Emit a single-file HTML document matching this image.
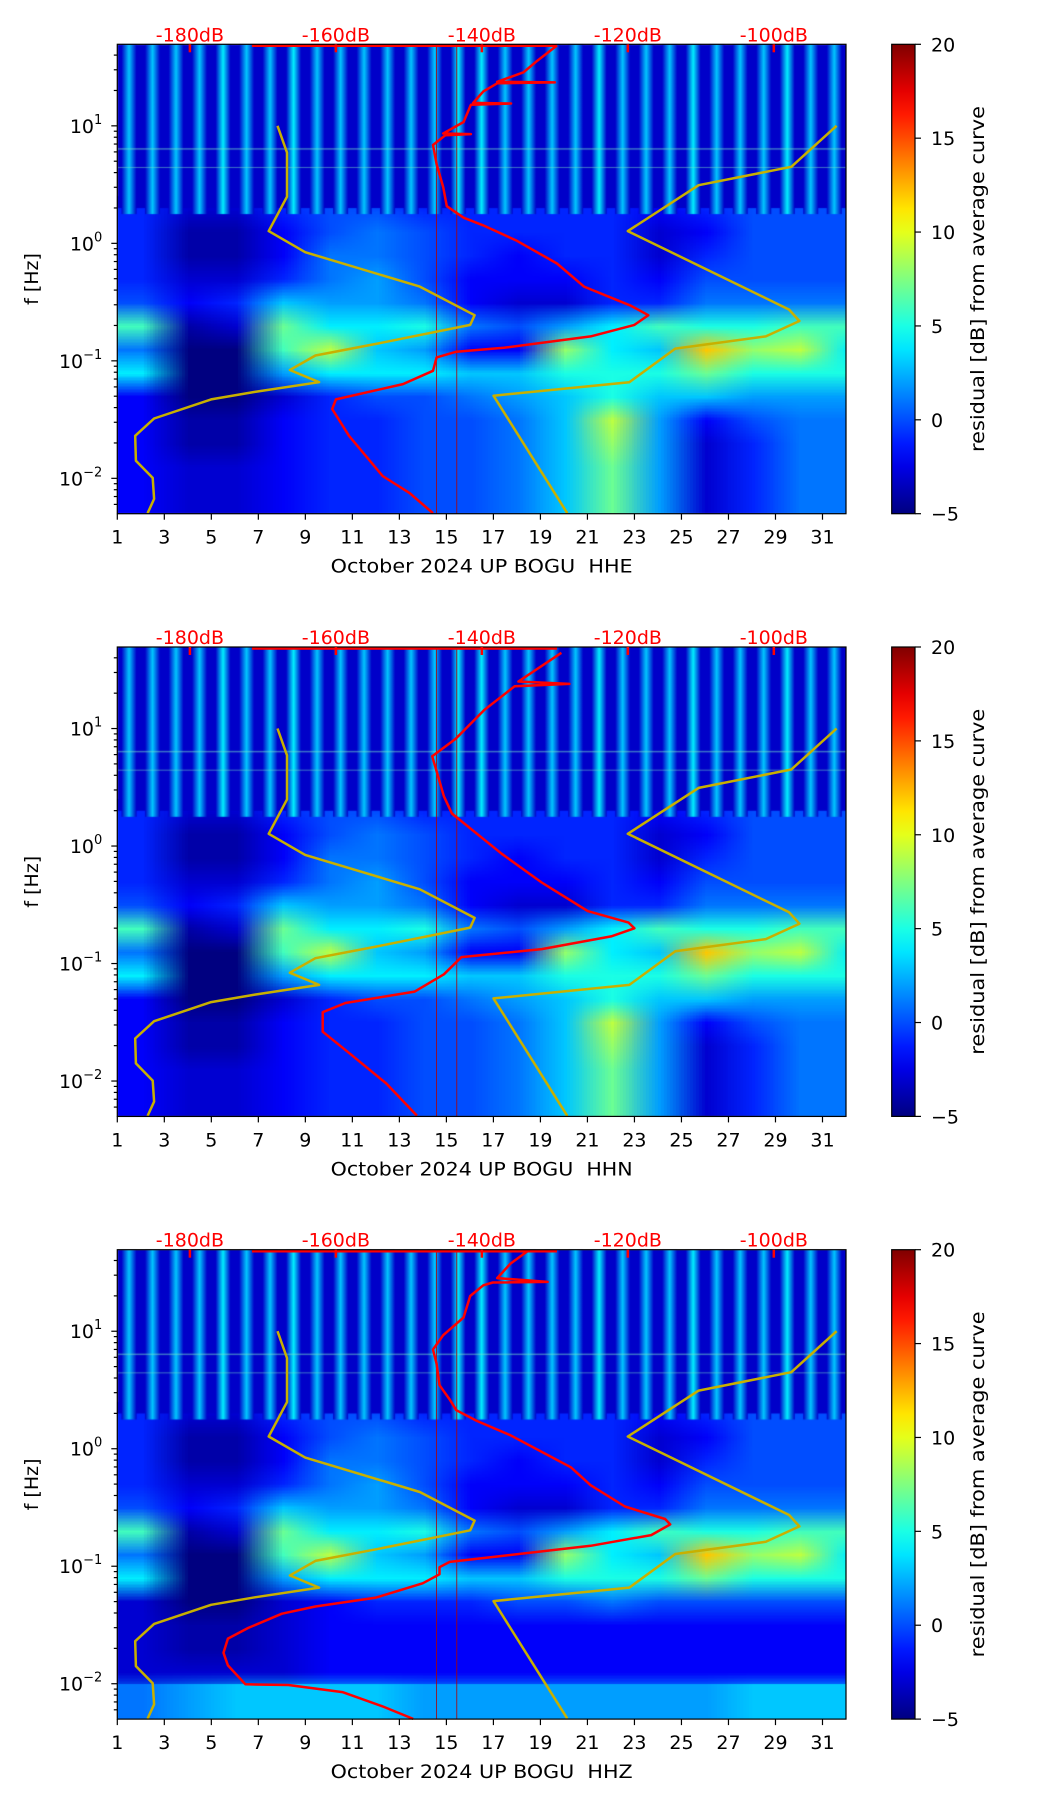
<!DOCTYPE html>
<html><head><meta charset="utf-8">
<style>
html,body{margin:0;padding:0;background:#fff;}
#wrap{position:relative;width:1052px;height:1806px;overflow:hidden;font-family:"DejaVu Sans","Liberation Sans",sans-serif;}
canvas{position:absolute;left:0;top:0;}
svg{position:absolute;left:0;top:0;}
</style></head>
<body>
<div id="wrap">
<canvas id="cv" width="1052" height="1806"></canvas>
<svg id="sv" width="1052" height="1806" xmlns="http://www.w3.org/2000/svg"></svg>
</div>
<script>
// ---------- data ----------
const panelTitles = ["October 2024 UP BOGU \u00a0HHE","October 2024 UP BOGU \u00a0HHN","October 2024 UP BOGU \u00a0HHZ"];
const dayTicks = [1,3,5,7,9,11,13,15,17,19,21,23,25,27,29,31];
const dbTicks = [-180,-160,-140,-120,-100];
const dbTickLabels = ["-180dB","-160dB","-140dB","-120dB","-100dB"];
const cbTicks = [20,15,10,5,0,-5];
const cbTickLabels = ["20","15","10","5","0","\u22125"];
const rowLogF = [0.3,0.1,-0.1,-0.3,-0.5,-0.7,-0.9,-1.1,-1.3,-1.5,-1.7,-1.9,-2.1,-2.3];
const specRows12 = [
 [-1,-3,-3,-1,0,0,-1,-1,-1,-1,-1,-2,-1,0,0,0],
 [-1,-4,-4,-2,0,1,0,-1,-1,-1,-1,-3,-2,0,0,0],
 [-1,-4,-4,-2,1,1,0,-1,-2,-1,-1,-3,-1,0,0,0],
 [-1,-3,-3,-1,1,2,0,-2,-2,-2,-1,-2,0,0,0,0],
 [0,-2,-1,3,2,2,1,-2,-3,-3,-1,-1,1,1,1,1],
 [6,-4,-3,7,4,4,5,1,0,2,4,6,5,5,6,6],
 [1,-5,-5,6,9,3,2,-2,-2,8,4,3,12,8,9,4],
 [4,-5,-5,2,4,4,4,3,3,5,5,5,7,5,5,5],
 [-2,-5,-5,-3,-1,0,0,1,2,3,5,3,3,2,2,2],
 [-2,-4,-4,-2,-1,-1,0,0,1,3,9,2,-2,0,1,1],
 [-2,-4,-4,-2,-1,-1,0,0,1,3,8,2,-3,-1,1,1],
 [-2,-3,-3,-2,-1,-1,0,0,1,3,7,2,-3,-1,1,1],
 [-2,-3,-3,-2,-1,-1,0,0,1,3,7,2,-3,-1,1,1],
 [-2,-3,-3,-2,-1,-1,0,0,1,3,7,2,-3,-1,1,1]
];
const specRows3 = [
 [-1,-3,-3,-1,0,0,-1,-1,-1,-1,-1,-2,-1,0,0,0],
 [-1,-4,-4,-2,0,1,0,-1,-1,-1,-1,-3,-2,0,0,0],
 [-1,-4,-4,-2,1,1,0,-1,-2,-1,-1,-3,-1,0,0,0],
 [-1,-3,-3,-1,1,2,0,-2,-2,-2,-1,-2,0,0,0,0],
 [0,-2,-1,3,2,2,1,-2,-3,-3,-1,-1,1,1,1,1],
 [6,-4,-3,7,4,4,5,1,0,2,4,6,5,5,6,6],
 [1,-5,-5,6,9,3,2,-2,-2,8,4,3,12,8,9,4],
 [4,-5,-5,2,4,4,4,3,3,5,5,5,7,5,5,5],
 [-3,-5,-5,-3,-2,-1,-1,-1,0,0,1,0,0,0,0,0],
 [-3,-4,-4,-3,-2,-2,-2,-2,-2,-2,-2,-2,-2,-2,-2,-2],
 [-3,-4,-4,-3,-2,-2,-2,-2,-2,-2,-2,-2,-2,-2,-2,-2],
 [-3,-3,-3,-3,-2,-2,-2,-2,-2,-2,-2,-2,-2,-2,-2,-2],
 [1,2,3,3,3,3,2,2,2,2,2,2,2,3,3,3],
 [1,2,3,3,3,3,2,2,2,2,2,2,2,3,3,3]
];
const hfStripe = [3,3,3,3,4,3,3,4,3,3,3,3,3,3,4,4,3,3,3,3,4,3,3,3,4,3,3,3,4,3,3];
const hfBase = -3.2;
const nlnmDb = [-168.0,-166.7,-166.7,-169.2,-164.2,-148.5,-141.0,-141.6,-154.5,-162.8,-166.3,-162.3,-171.1,-177.1,-184.9,-187.5,-187.4,-185.1,-184.9,-185.8];
const nlnmLf = [1.0,0.772,0.397,0.104,-0.075,-0.368,-0.612,-0.694,-0.856,-0.955,-1.078,-1.182,-1.264,-1.328,-1.491,-1.638,-1.850,-1.996,-2.175,-2.297];
const nhnmDb = [-91.4,-97.6,-110.3,-120.0,-97.9,-96.5,-101.1,-113.5,-119.8,-138.4,-128.3];
const nhnmLf = [1.0,0.651,0.495,0.104,-0.564,-0.661,-0.792,-0.896,-1.182,-1.297,-2.297];
const red1Db = [-129.7,-132.4,-134.3,-137.9,-130.0,-137.9,-139.8,-141.2,-136.0,-141.5,-142.5,-145.3,-141.5,-145.0,-146.7,-146.2,-145.3,-144.8,-142.5,-139.8,-135.2,-129.7,-126.0,-119.6,-117.2,-119.1,-125.1,-137.0,-143.5,-146.2,-146.7,-150.8,-160.0,-160.5,-158.2,-153.6,-149.9,-146.7];
const red1Lf = [1.684,1.554,1.456,1.375,1.370,1.362,1.293,1.195,1.190,1.180,1.033,0.935,0.93,0.92,0.837,0.674,0.479,0.316,0.218,0.153,0.022,-0.172,-0.368,-0.531,-0.612,-0.694,-0.792,-0.889,-0.922,-0.971,-1.085,-1.198,-1.328,-1.410,-1.638,-1.980,-2.126,-2.297];
const red2Db = [-129.1,-135.0,-128.0,-135.5,-139.7,-143.6,-146.8,-145.2,-144.1,-137.3,-131.8,-125.5,-119.9,-119.1,-122.3,-131.8,-142.8,-145.2,-149.2,-158.7,-161.8,-161.8,-157.9,-153.1,-148.9];
const red2Lf = [1.645,1.40,1.38,1.36,1.156,0.912,0.765,0.423,0.277,-0.065,-0.31,-0.554,-0.652,-0.70,-0.769,-0.877,-0.945,-1.092,-1.239,-1.336,-1.414,-1.58,-1.776,-2.02,-2.294];
const red3Db = [-133.8,-136.1,-137.9,-131.0,-138.5,-139.8,-141.6,-142.5,-145.3,-146.7,-146.2,-145.8,-144.4,-143.5,-140.7,-136.1,-131.5,-127.8,-125.1,-120.4,-114.9,-114.2,-116.8,-125.1,-137.9,-144.4,-145.8,-145.8,-148.1,-154.5,-162.8,-167.4,-172.0,-174.8,-175.4,-174.8,-172.4,-166.5,-159.1,-153.6,-149.4];
const red3Lf = [1.679,1.574,1.452,1.42,1.415,1.391,1.30,1.118,0.966,0.845,0.723,0.541,0.419,0.328,0.237,0.115,-0.036,-0.158,-0.310,-0.492,-0.598,-0.644,-0.735,-0.826,-0.917,-0.963,-1.008,-1.069,-1.145,-1.267,-1.343,-1.404,-1.525,-1.616,-1.737,-1.844,-2.005,-2.011,-2.071,-2.193,-2.299];
const redTopDb = [-171.5,-129.7];
const vlineDays = [14.58,15.44];

// ---------- geometry ----------
const L=117.3, R=846, W=R-L, H=469.4;
const tops=[44.3,647,1249.7];
const LFMAX=1.694, LFMIN=-2.301;
const CBX=891.7, CBW=23.3;
function xDay(d){return L+(d-1)/31*W;}
function xDb(db){return 189.9+(db+180)*7.299;}
function yLf(T,lf){return T+(LFMAX-lf)/(LFMAX-LFMIN)*H;}
function yCb(T,v){return T+(20-v)/25*H;}

function jet(v){
  let t=(v+5)/25; t=Math.max(0,Math.min(1,t));
  function c(x){return Math.max(0,Math.min(1,x));}
  const r=c(1.5-Math.abs(4*t-3)), g=c(1.5-Math.abs(4*t-2)), b=c(1.5-Math.abs(4*t-1));
  return 'rgb('+Math.round(r*255)+','+Math.round(g*255)+','+Math.round(b*255)+')';
}

const cv=document.getElementById('cv'), ctx=cv.getContext('2d');
const sv=document.getElementById('sv'), NS='http://www.w3.org/2000/svg';
function mk(tag,attrs,parent){const e=document.createElementNS(NS,tag);for(const k in attrs)e.setAttribute(k,attrs[k]);(parent||sv).appendChild(e);return e;}

const defs=mk('defs',{});
const lg=mk('linearGradient',{id:'jetg',x1:'0',y1:'1',x2:'0',y2:'0'},defs);
for(let i=0;i<=20;i++){const v=-5+25*i/20;mk('stop',{offset:(i/20).toFixed(3),'stop-color':jet(v)},lg);}

function drawPanel(p){
  const T=tops[p];
  const rows = p===2 ? specRows3 : specRows12;
  ctx.save();
  ctx.beginPath();ctx.rect(L,T,W,H);ctx.clip();
  const sm=document.createElement('canvas');sm.width=rows[0].length;sm.height=rows.length;
  const sc=sm.getContext('2d');
  for(let r=0;r<rows.length;r++)for(let c=0;c<rows[r].length;c++){sc.fillStyle=jet(rows[r][c]);sc.fillRect(c,r,1,1);}
  ctx.imageSmoothingEnabled=true;
  const y0=yLf(T,rowLogF[0]+0.1), y1=yLf(T,rowLogF[rowLogF.length-1]-0.1);
  ctx.drawImage(sm,0,0,sm.width,sm.height,xDay(1),y0,xDay(1+2*sm.width)-xDay(1),y1-y0);
  if(p===2){
    ctx.save();ctx.beginPath();ctx.rect(L,yLf(T,-2),W,T+H-yLf(T,-2));ctx.clip();
    const s2=document.createElement('canvas');s2.width=16;s2.height=1;const c2=s2.getContext('2d');
    for(let c=0;c<16;c++){c2.fillStyle=jet(rows[12][c]);c2.fillRect(c,0,1,1);}
    ctx.drawImage(s2,0,0,16,1,xDay(1),yLf(T,-2),xDay(33)-xDay(1),T+H-yLf(T,-2));
    ctx.restore();
  }
  const hy0=T, hy1=yLf(T,0.3);
  ctx.fillStyle=jet(hfBase);ctx.fillRect(L,hy0,W,hy1-hy0);
  for(let d=0;d<hfStripe.length;d++){
    const cx=xDay(d+1.5), hw=(xDay(2)-xDay(1))*0.32;
    const g=ctx.createLinearGradient(cx-hw,0,cx+hw,0);
    g.addColorStop(0,jet(hfBase));g.addColorStop(0.5,jet(hfStripe[d]));g.addColorStop(1,jet(hfBase));
    ctx.fillStyle=g;ctx.fillRect(cx-hw,hy0,2*hw,hy1-hy0+6);
  }
  ctx.fillStyle='rgba(120,230,200,0.5)';
  ctx.fillRect(L,yLf(T,0.81),W,1.5);ctx.fillRect(L,yLf(T,0.65),W,1);
  ctx.restore();

  const g=mk('g',{});
  
  
  vlineDays.forEach(d=>{const l=mk('line',{x1:xDay(d),x2:xDay(d),y1:T,y2:T+H,stroke:'#b00000','stroke-width':1,opacity:0.8},g);
    });
  function poly(dbs,lfs,color,w,name){
    const pts=dbs.map((db,i)=>xDb(db).toFixed(1)+','+yLf(T,lfs[i]).toFixed(1)).join(' ');
    const e=mk('polyline',{points:pts,fill:'none',stroke:color,'stroke-width':w,'stroke-linejoin':'round'},g);
    
  }
  poly(nlnmDb,nlnmLf,'#c8b000',2.5,'nlnm-curve');
  poly(nhnmDb,nhnmLf,'#c8b000',2.5,'nhnm-curve');
  const rd=[red1Db,red2Db,red3Db][p], rl=[red1Lf,red2Lf,red3Lf][p];
  poly(rd,rl,'#ff0000',2.5,'average-psd-curve');
  const tl=mk('line',{x1:xDb(redTopDb[0]),x2:xDb(redTopDb[1]),y1:T+1.5,y2:T+1.5,stroke:'#ff0000','stroke-width':2.5},g);
  
  const fr=mk('rect',{x:L,y:T,width:W,height:H,fill:'none',stroke:'#000','stroke-width':1.2},g);
  
  dayTicks.forEach(d=>{
    mk('line',{x1:xDay(d),x2:xDay(d),y1:T+H,y2:T+H+6,stroke:'#000','stroke-width':1.2},g);
    const t=mk('text',{x:xDay(d),y:T+H+30,'text-anchor':'middle','font-size':19},g);t.textContent=d;
    
  });
  const xt=mk('text',{x:(L+R)/2,y:T+H+59,'text-anchor':'middle','font-size':19,textLength:302,lengthAdjust:'spacingAndGlyphs'},g);
  xt.textContent=panelTitles[p];
  
  dbTicks.forEach((db,i)=>{
    mk('line',{x1:xDb(db),x2:xDb(db),y1:T,y2:T+8,stroke:'#ff0000','stroke-width':2.5},g);
    const t=mk('text',{x:xDb(db),y:T-3,'text-anchor':'middle','font-size':19,fill:'#ff0000'},g);t.textContent=dbTickLabels[i];
    
  });
  for(let e=-3;e<=1;e++){
    for(let m=1;m<10;m++){
      const lf=e+Math.log10(m);
      if(lf<LFMIN||lf>LFMAX)continue;
      const y=yLf(T,lf);
      mk('line',{x1:L-(m===1?6:3.5),x2:L,y1:y,y2:y,stroke:'#000','stroke-width':1.2},g);
      if(m===1){
        const t=mk('text',{x:L-15,y:y+7,'text-anchor':'end','font-size':19},g);
        
        const a=mk('tspan',{},t);a.textContent='10';
        const s=mk('tspan',{dy:-9,'font-size':13},t);s.textContent=(e<0?'\u2212':'')+Math.abs(e);
      }
    }
  }
  const yt=mk('text',{x:0,y:0,'text-anchor':'middle','font-size':19,transform:'translate(38,'+(T+H/2)+') rotate(-90)'},g);
  yt.textContent='f [Hz]';
  const cb=mk('rect',{x:CBX,y:T,width:CBW,height:H,fill:'url(#jetg)',stroke:'#000','stroke-width':1.2},g);
  
  cbTicks.forEach((v,i)=>{
    const y=yCb(T,v);
    mk('line',{x1:CBX+CBW,x2:CBX+CBW+6,y1:y,y2:y,stroke:'#000','stroke-width':1.2},g);
    const t=mk('text',{x:CBX+CBW+16,y:y+7,'font-size':19},g);t.textContent=cbTickLabels[i];
    
  });
  const ct=mk('text',{x:0,y:0,'text-anchor':'middle','font-size':19,textLength:346,lengthAdjust:'spacingAndGlyphs',transform:'translate(984,'+(T+H/2)+') rotate(-90)'},g);
  ct.textContent='residual [dB] from average curve';
  
}
for(let p=0;p<3;p++)drawPanel(p);
</script>
</body></html>
